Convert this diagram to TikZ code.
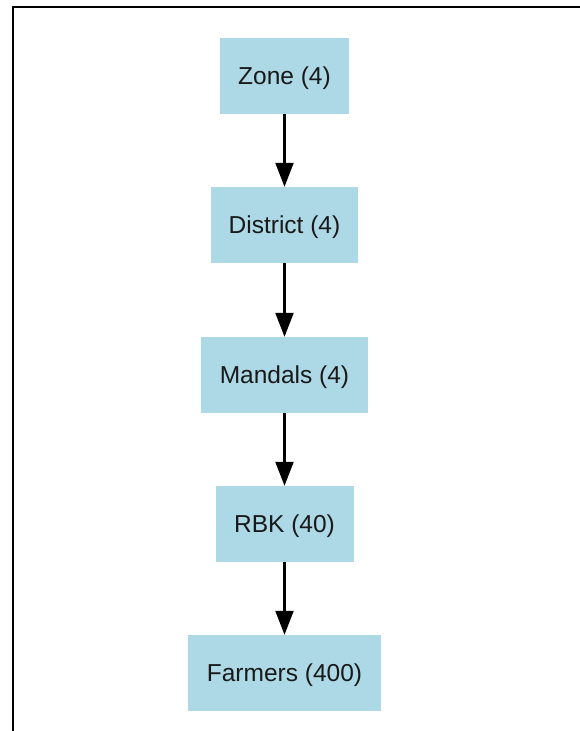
\documentclass[tikz,border=0pt]{standalone}
\usepackage{fontspec}
\setmainfont{Liberation Sans}
\usetikzlibrary{arrows.meta}
\definecolor{boxblue}{HTML}{ADD8E6}
\begin{document}
\begin{tikzpicture}[x=1pt,y=-1pt,
  levelbox/.style={fill=boxblue, draw=none, inner sep=0pt, minimum height=76pt, text height=19pt, text depth=1.8pt, font=\fontsize{24.5}{28}\selectfont, text=black!90},
  flow/.style={line width=2.2pt, -{Triangle[length=24pt,width=18pt]}}]
\useasboundingbox (0,0) rectangle (580,731);
\fill[white] (0,0) rectangle (580,731);
\draw[line width=2pt] (13,732) -- (13,7) -- (581,7);
\node[levelbox, minimum width=129pt] (zone) at (284.5,76) {Zone (4)};
\node[levelbox, minimum width=147pt] (district) at (284.5,225) {District (4)};
\node[levelbox, minimum width=167pt] (mandals) at (284.5,375) {Mandals (4)};
\node[levelbox, minimum width=138pt] (rbk) at (284.5,524) {RBK (40)};
\node[levelbox, minimum width=193pt] (farmers) at (284.5,673) {Farmers (400)};
\draw[flow] (zone.south) -- (district.north);
\draw[flow] (district.south) -- (mandals.north);
\draw[flow] (mandals.south) -- (rbk.north);
\draw[flow] (rbk.south) -- (farmers.north);
\end{tikzpicture}
\end{document}
